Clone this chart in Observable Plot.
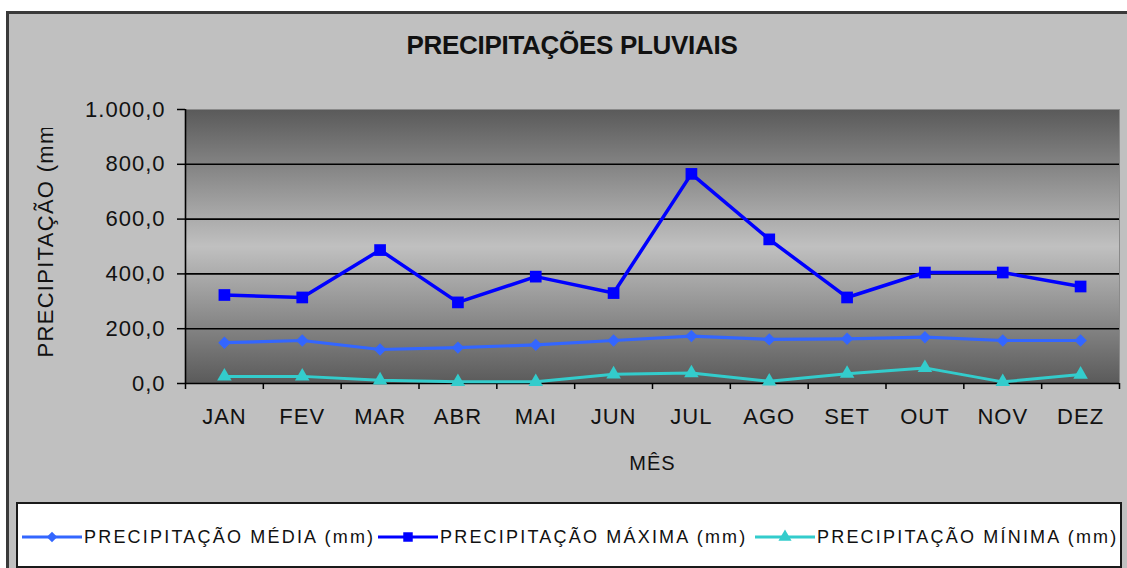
<!DOCTYPE html>
<html>
<head>
<meta charset="utf-8">
<script src="https://cdn.jsdelivr.net/npm/d3@7"></script>
<script src="https://cdn.jsdelivr.net/npm/@observablehq/plot@0.6"></script>
<style>
  html, body { margin: 0; padding: 0; }
  body { width: 1127px; height: 568px; overflow: hidden; background: #fff; position: relative;
         font-family: "Liberation Sans", Arial, sans-serif; color: #111; }
  #frame { position: absolute; left: 6px; top: 11px; width: 1130px; height: 570px;
           background: #c0c0c0; border: 3px solid #3a3a3a; box-sizing: border-box; }
  #title { position: absolute; left: 0; width: 1144px; top: 30px; text-align: center;
           font-weight: bold; font-size: 26px; letter-spacing: -0.3px; line-height: normal; color: #111; }
  #chart { position: absolute; left: 0; top: 80px; }
  #chart text { letter-spacing: 1px; }
  #chart text.ylab { letter-spacing: 1.3px; }
  #legend { position: absolute; left: 16px; top: 502px; width: 1106px; height: 66px;
            background: #fff; border: 2px solid #1a1a1a; box-sizing: border-box; }
  .item { position: absolute; top: 23px; height: 20px; display: flex; align-items: center; }
  .item span { font-size: 18px; letter-spacing: 2.2px; line-height: 20px; white-space: nowrap; color: #111; margin-left: 2px; }
</style>
</head>
<body>
<div id="frame"></div>
<div id="title"></div>
<div id="chart"></div>
<div id="legend"></div>
<script>
// ---- data ----
const titleText = "PRECIPITAÇÕES PLUVIAIS";
const months = ["JAN", "FEV", "MAR", "ABR", "MAI", "JUN", "JUL", "AGO", "SET", "OUT", "NOV", "DEZ"];
const media  = [149, 157, 124, 131, 141, 157, 173, 161, 163, 169, 157, 157];
const maxima = [323, 314, 487, 296, 390, 330, 765, 526, 314, 405, 405, 354];
const minima = [26, 26, 12, 6, 6, 34, 38, 8, 36, 57, 6, 33];
const yTicks = [0, 200, 400, 600, 800, 1000];
const gridTicks = [200, 400, 600, 800];
const seriesNames = ["PRECIPITAÇÃO MÉDIA (mm)", "PRECIPITAÇÃO MÁXIMA (mm)", "PRECIPITAÇÃO MÍNIMA (mm)"];
const seriesColors = ["#3366ff", "#0000ff", "#33cccc"];
const xLabel = "MÊS";
const yLabel = "PRECIPITAÇÃO (mm)";

document.getElementById("title").textContent = titleText;

const fmt = d3.formatLocale({decimal: ",", thousands: ".", grouping: [3], currency: ["R$", ""]}).format(",.1f");
const rows = months.map((m, i) => ({i, m, media: media[i], maxima: maxima[i], minima: minima[i]}));
const xPos = d => d.i + 0.5;

const chart = Plot.plot({
  width: 1127, height: 420,
  marginTop: 29, marginBottom: 117, marginLeft: 185, marginRight: 8,
  style: {background: "transparent", fontFamily: "Liberation Sans, Arial, sans-serif", color: "#111", overflow: "visible"},
  x: {domain: [0, 12], axis: null},
  y: {domain: [0, 1000], axis: null},
  marks: [
    Plot.frame({fill: "url(#plotBg)"}),
    Plot.ruleY(gridTicks, {stroke: "#000", strokeWidth: 1.6}),
    Plot.frame({stroke: "#8a8a8a", strokeWidth: 1}),
    Plot.axisY({ticks: yTicks, tickSize: 8, tickPadding: 12, tickFormat: fmt, fontSize: 22, label: null, stroke: "#000", strokeWidth: 1.5, fill: "#111"}),
    Plot.axisX({ticks: d3.range(13), tickSize: 6, tickFormat: () => "", label: null, stroke: "#000", strokeWidth: 1.5}),
    Plot.axisX({ticks: months.map((m, i) => i + 0.5), tickSize: 0, tickPadding: 25, tickFormat: d => months[Math.floor(d)], fontSize: 22, label: null, fill: "#111"}),
    Plot.ruleX([0], {stroke: "#000", strokeWidth: 1.6}),
    Plot.ruleY([0], {stroke: "#000", strokeWidth: 1.6}),
    Plot.line(rows, {x: xPos, y: "minima", stroke: seriesColors[2], strokeWidth: 3}),
    Plot.line(rows, {x: xPos, y: "media", stroke: seriesColors[0], strokeWidth: 3.2}),
    Plot.line(rows, {x: xPos, y: "maxima", stroke: seriesColors[1], strokeWidth: 3.5}),
    Plot.dot(rows, {x: xPos, y: "minima", symbol: "triangle", r: 5.4, fill: seriesColors[2], stroke: "none"}),
    Plot.dot(rows, {x: xPos, y: "media", symbol: "diamond2", r: 5.6, fill: seriesColors[0], stroke: "none"}),
    Plot.dot(rows, {x: xPos, y: "maxima", symbol: "square", r: 6.6, fill: seriesColors[1], stroke: "none"}),
    Plot.text([xLabel], {text: d => d, frameAnchor: "bottom", dy: 72, lineAnchor: "top", fontSize: 20, fill: "#111"}),
    Plot.text([yLabel], {text: d => d, frameAnchor: "bottom-left", dx: -133, dy: -26, rotate: -90, textAnchor: "start", fontSize: 22, fill: "#111"})
  ]
});

const ns = "http://www.w3.org/2000/svg";
const defs = document.createElementNS(ns, "defs");
const grad = document.createElementNS(ns, "linearGradient");
grad.setAttribute("id", "plotBg");
grad.setAttribute("x1", "0"); grad.setAttribute("y1", "0");
grad.setAttribute("x2", "0"); grad.setAttribute("y2", "1");
[["0", "#5a5a5a"], ["0.5", "#c0c0c0"], ["1", "#5a5a5a"]].forEach(([o, c]) => {
  const s = document.createElementNS(ns, "stop");
  s.setAttribute("offset", o); s.setAttribute("stop-color", c);
  grad.appendChild(s);
});
defs.appendChild(grad);
const clip = document.createElementNS(ns, "clipPath");
clip.setAttribute("id", "ylabClip");
clip.setAttribute("clipPathUnits", "userSpaceOnUse");
const crect = document.createElementNS(ns, "rect");
crect.setAttribute("x", "0"); crect.setAttribute("y", "48");
crect.setAttribute("width", "180"); crect.setAttribute("height", "400");
clip.appendChild(crect);
defs.appendChild(clip);
chart.insertBefore(defs, chart.firstChild);

const ylabText = Array.from(chart.querySelectorAll("text")).find(t => t.textContent === yLabel);
if (ylabText) {
  ylabText.classList.add("ylab");
  const grp = ylabText.parentNode;
  const wrap = document.createElementNS(ns, "g");
  wrap.setAttribute("clip-path", "url(#ylabClip)");
  grp.parentNode.insertBefore(wrap, grp);
  wrap.appendChild(grp);
}
document.getElementById("chart").appendChild(chart);

// ---- legend ----
const legend = document.getElementById("legend");
const symbols = [d3.symbolDiamond2, d3.symbolSquare, d3.symbolTriangle];
const symSizes = [70, 90, 75];
const itemLefts = [4, 360, 737];
seriesNames.forEach((name, k) => {
  const item = document.createElement("div");
  item.className = "item";
  item.style.left = itemLefts[k] + "px";
  const svg = d3.create("svg").attr("width", 60).attr("height", 20);
  svg.append("line").attr("x1", 0).attr("x2", 60).attr("y1", 10).attr("y2", 10)
    .attr("stroke", seriesColors[k]).attr("stroke-width", 3);
  svg.append("path").attr("d", d3.symbol(symbols[k], symSizes[k])())
    .attr("transform", "translate(30,10)").attr("fill", seriesColors[k]);
  item.appendChild(svg.node());
  const span = document.createElement("span");
  span.textContent = name;
  item.appendChild(span);
  legend.appendChild(item);
});
</script>
</body>
</html>
